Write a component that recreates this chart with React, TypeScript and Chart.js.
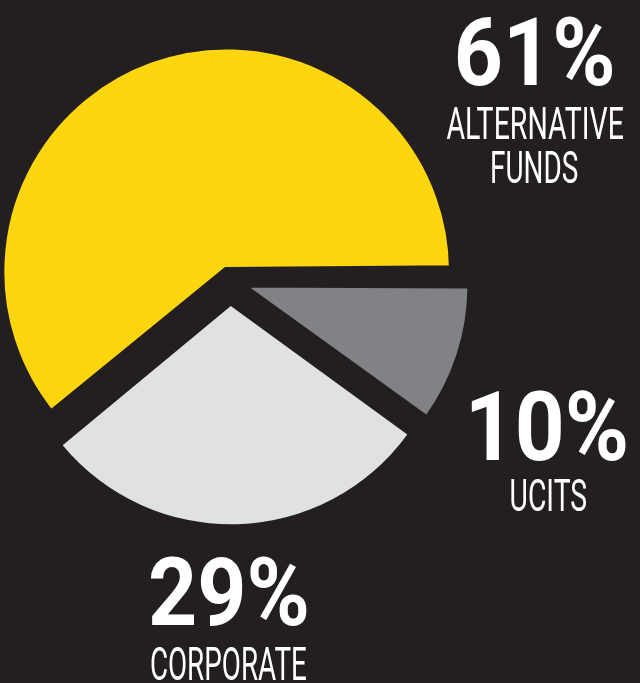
import React, { useEffect, useRef } from 'react';
import { Chart, registerables } from 'chart.js';

Chart.register(...registerables);

// ---- data ----
const categories = ['UCITS', 'CORPORATE', 'ALTERNATIVE FUNDS'];
const labelLines = [['UCITS'], ['CORPORATE'], ['ALTERNATIVE', 'FUNDS']];
const shares = [10, 29, 61];

// ---- style ----
const BG = '#231f20';
const sliceColors = ['#808285', '#e0e1e3', '#fed610'];
const sliceOffsets = [63, 100, 39];
const sliceBorders = [3.2, 0, 9.8];

const PCT_FONT = '700 100px Roboto';
const NAME_FONT = '400 50px Roboto';

// text boxes: center x, baselines, cap heights, ink widths
const labelAnchors = [
  { x: 548.7, pct: 459.7, pctH: 70, pctW: 154, name: 511, nameH: 31.5, lh: 43.4, nameW: [75] },
  { x: 228.5, pct: 625, pctH: 69, pctW: 156, name: 680, nameH: 33, lh: 43.4, nameW: [155] },
  { x: 534.8, pct: 85, pctH: 67.5, pctW: 155, name: 139.3, nameH: 32.6, lh: 43.4, nameW: [176.6, 85] },
];

function drawFitted(
  ctx: CanvasRenderingContext2D,
  text: string,
  capRef: string,
  cx: number,
  baseline: number,
  font: string,
  width: number,
  capH: number
) {
  ctx.save();
  ctx.font = font;
  ctx.textAlign = 'left';
  ctx.textBaseline = 'alphabetic';
  const m = ctx.measureText(text);
  const l = m.actualBoundingBoxLeft;
  const r = m.actualBoundingBoxRight;
  const ink = l + r;
  const asc = ctx.measureText(capRef).actualBoundingBoxAscent || 1;
  const sx = width / ink;
  const sy = capH / asc;
  ctx.translate(cx, baseline);
  ctx.scale(sx, sy);
  ctx.fillStyle = '#ffffff';
  ctx.fillText(text, (l - r) / 2, 0);
  ctx.restore();
}

const labelPlugin = {
  id: 'sliceLabels',
  afterDraw(chart: any) {
    const ctx = chart.ctx as CanvasRenderingContext2D;
    const values = chart.data.datasets[0].data as number[];
    values.forEach((v, i) => {
      const a = labelAnchors[i];
      drawFitted(ctx, `${v}%`, String(v), a.x, a.pct, PCT_FONT, a.pctW, a.pctH);
      labelLines[i].forEach((line, j) => {
        drawFitted(ctx, line, 'H', a.x, a.name + j * a.lh, NAME_FONT, a.nameW[j], a.nameH);
      });
    });
  },
};

export default function App() {
  const ref = useRef<HTMLCanvasElement>(null);
  useEffect(() => {
    if (!ref.current) return;
    const chart = new Chart(ref.current, {
      type: 'pie',
      data: {
        labels: categories,
        datasets: [
          {
            data: shares,
            backgroundColor: sliceColors,
            borderColor: BG,
            borderWidth: sliceBorders,
            borderJoinStyle: 'miter',
            offset: sliceOffsets,
            hoverOffset: 0,
          } as any,
        ],
      },
      options: {
        animation: false,
        responsive: false,
        rotation: 90,
        radius: 217.5,
        events: [],
        layout: { padding: { left: 0, top: 0, right: 180, bottom: 121 } },
        plugins: { legend: { display: false }, tooltip: { enabled: false } },
      } as any,
      plugins: [labelPlugin],
    });
    return () => chart.destroy();
  }, []);
  return (
    <div style={{ position: 'fixed', left: 0, top: 0, width: 640, height: 683, background: BG }}>
      <canvas ref={ref} width={640} height={683} style={{ display: 'block' }} />
    </div>
  );
}
